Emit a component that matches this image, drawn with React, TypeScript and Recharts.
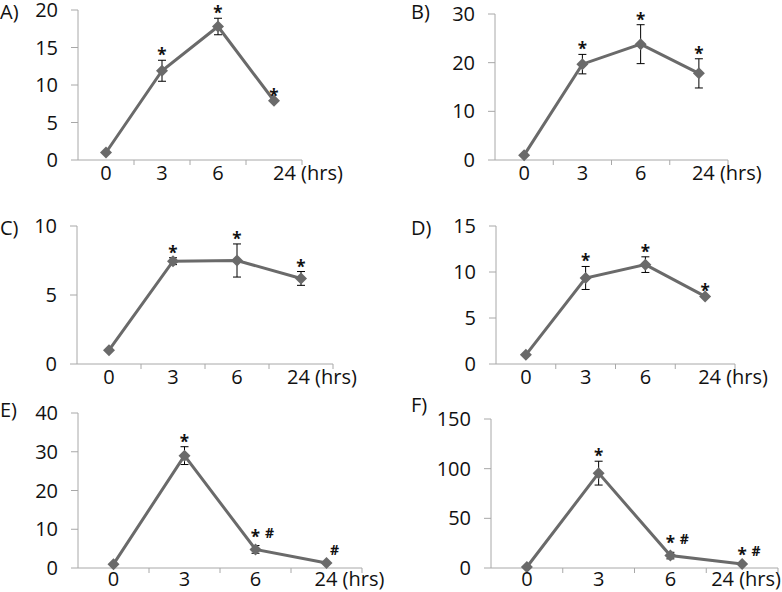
import React from 'react';
import { ComposedChart, Line, XAxis, YAxis, ErrorBar, LabelList } from 'recharts';

// time points (hours)
const timePoints = ['0', '3', '6', '24'];

const valuesA = [1, 11.9, 17.8, 7.9];
const errorsA = [0, 1.4, 1.1, 0];
const notesA = ['', '*', '*', '*'];

const valuesB = [1, 19.7, 23.8, 17.8];
const errorsB = [0, 2, 4, 3];
const notesB = ['', '*', '*', '*'];

const valuesC = [1, 7.45, 7.5, 6.2];
const errorsC = [0, 0.25, 1.2, 0.5];
const notesC = ['', '*', '*', '*'];

const valuesD = [1, 9.35, 10.8, 7.35];
const errorsD = [0, 1.25, 0.85, 0];
const notesD = ['', '*', '*', '*'];

const valuesE = [1, 29, 4.8, 1.3];
const errorsE = [0, 2.3, 1, 0];
const notesE = ['', '*', '* #', '#'];

const valuesF = [1, 95.5, 12.5, 4];
const errorsF = [0, 12, 3.3, 0];
const notesF = ['', '*', '* #', '* #'];

const ticksA = [0, 5, 10, 15, 20];
const ticksB = [0, 10, 20, 30];
const ticksC = [0, 5, 10];
const ticksD = [0, 5, 10, 15];
const ticksE = [0, 10, 20, 30, 40];
const ticksF = [0, 50, 100, 150];

const LINE = '#6a6a6a';
const AXIS = '#a8a8a8';
const TEXT = '#111';
const FONT = '"Open Sans", sans-serif';
const FS = 20;

const Y_W = 70;
const M_TOP = 30;
const M_RIGHT = 90;
const PAGE_H = 592;

const panels = [
  { letter: 'A)', lx: 0, ly: 19, values: valuesA, errors: errorsA, notes: notesA, ticks: ticksA, box: { left: 78, right: 302, top: 10, bottom: 160 }, lastDx: -1 },
  { letter: 'B)', lx: 411, ly: 19, values: valuesB, errors: errorsB, notes: notesB, ticks: ticksB, box: { left: 495, right: 728, top: 14, bottom: 160 }, lastDx: -7 },
  { letter: 'C)', lx: 0, ly: 235, values: valuesC, errors: errorsC, notes: notesC, ticks: ticksC, box: { left: 77, right: 333, top: 226, bottom: 364 }, lastDx: -14 },
  { letter: 'D)', lx: 411, ly: 235, values: valuesD, errors: errorsD, notes: notesD, ticks: ticksD, box: { left: 496, right: 735, top: 226, bottom: 364 }, lastDx: -7 },
  { letter: 'E)', lx: 0, ly: 417, values: valuesE, errors: errorsE, notes: notesE, ticks: ticksE, box: { left: 78, right: 362, top: 413, bottom: 568 }, lastDx: -12 },
  { letter: 'F)', lx: 411, ly: 412, values: valuesF, errors: errorsF, notes: notesF, ticks: ticksF, box: { left: 491, right: 778, top: 419, bottom: 568 }, lastDx: -31 },
];

const renderDiamond = (props: any) => {
  const { cx, cy, index } = props;
  if (cx == null || cy == null) return <g key={index} />;
  const r = 6;
  return <path key={index} d={`M${cx},${cy - r}L${cx + r},${cy}L${cx},${cy + r}L${cx - r},${cy}Z`} fill={LINE} />;
};

const renderNote = (props: any) => {
  const vb = props.viewBox || {};
  const x = props.x ?? vb.x;
  const y = props.y ?? vb.y;
  const value: string = props.value || '';
  if (!value || x == null || y == null) return null;
  const star = value.includes('*');
  const hash = value.includes('#');
  return (
    <g key={props.index}>
      {star && (
        <text x={x} y={hash ? y - 3 : y + 1} textAnchor="middle" fontSize={17} fontWeight="bold" fontFamily={FONT} fill={TEXT}>*</text>
      )}
      {hash && (
        <text x={x + (star ? 14 : 8)} y={y - 8} textAnchor="middle" fontSize={14} fontWeight="bold" fontFamily={FONT} fill={TEXT}>#</text>
      )}
    </g>
  );
};

const Panel = ({ p }: any) => {
  const { box } = p;
  const plotW = box.right - box.left;
  const plotH = box.bottom - box.top;
  const band = plotW / timePoints.length;
  // keep the bottom row inside the page
  const xH = Math.min(40, PAGE_H - box.bottom);
  const labelDy = xH < 40 ? 18 : 20;
  const rows = timePoints.map((t, i) => ({
    t,
    value: p.values[i],
    err: p.errors[i],
    top: p.values[i] + p.errors[i],
    note: p.notes[i],
  }));
  const max = p.ticks[p.ticks.length - 1];

  const renderXTick = (props: any) => {
    const { x, y, index, payload } = props;
    const last = index === timePoints.length - 1;
    return (
      <g key={index}>
        <line x1={x + band / 2} y1={y} x2={x + band / 2} y2={y + 5} stroke={AXIS} />
        {last ? (
          <text x={x + p.lastDx} y={y + labelDy} textAnchor="start" fontSize={FS} fontFamily={FONT} fill={TEXT}>
            {payload.value} (hrs)
          </text>
        ) : (
          <text x={x} y={y + labelDy} textAnchor="middle" fontSize={FS} fontFamily={FONT} fill={TEXT}>
            {payload.value}
          </text>
        )}
      </g>
    );
  };

  return (
    <div style={{ position: 'absolute', left: box.left - Y_W, top: box.top - M_TOP }}>
      <ComposedChart
        width={plotW + Y_W + M_RIGHT}
        height={plotH + M_TOP + xH}
        data={rows}
        margin={{ top: M_TOP, right: M_RIGHT, left: 0, bottom: 0 }}
        style={{ overflow: 'visible' }}
      >
        <XAxis
          dataKey="t"
          scale="band"
          height={xH}
          interval={0}
          tickLine={false}
          tickSize={0}
          tickMargin={0}
          axisLine={{ stroke: AXIS }}
          tick={renderXTick}
        />
        <YAxis
          width={Y_W}
          domain={[0, max]}
          ticks={p.ticks}
          interval={0}
          tickSize={7}
          tickMargin={13}
          axisLine={{ stroke: AXIS }}
          tickLine={{ stroke: AXIS }}
          tick={{ fill: TEXT, fontSize: FS, fontFamily: FONT }}
        />
        <Line dataKey="value" stroke={LINE} strokeWidth={3} dot={renderDiamond} activeDot={false} isAnimationActive={false}>
          <ErrorBar dataKey="err" width={4} stroke="#000" strokeWidth={1} direction="y" />
        </Line>
        <Line dataKey="top" stroke="none" dot={false} activeDot={false} isAnimationActive={false}>
          <LabelList dataKey="note" content={renderNote} />
        </Line>
      </ComposedChart>
    </div>
  );
};

export default function App() {
  return (
    <div style={{ position: 'absolute', left: 0, top: 0, width: 782, height: PAGE_H, overflow: 'hidden', background: '#fff' }}>
      {panels.map((p) => (
        <Panel key={p.letter} p={p} />
      ))}
      <svg width={782} height={PAGE_H} style={{ position: 'absolute', left: 0, top: 0, pointerEvents: 'none' }}>
        {panels.map((p) => (
          <text key={p.letter} x={p.lx} y={p.ly} fontSize={FS} fontFamily={FONT} fill={TEXT}>
            {p.letter}
          </text>
        ))}
      </svg>
    </div>
  );
}
